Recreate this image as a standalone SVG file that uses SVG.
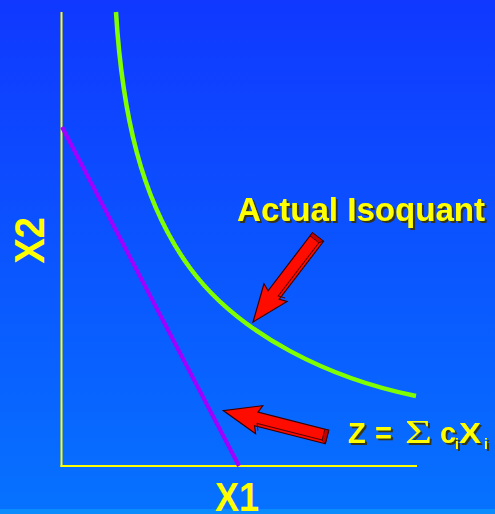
<svg xmlns="http://www.w3.org/2000/svg" width="495" height="514" viewBox="0 0 495 514">
<defs>
<linearGradient id="bg" x1="0" y1="0" x2="0" y2="1">
<stop offset="0" stop-color="#1038ff"/>
<stop offset="1" stop-color="#0672ff"/>
</linearGradient>
<filter id="sh" x="-10%" y="-10%" width="130%" height="140%">
<feOffset dx="2" dy="2" in="SourceAlpha" result="o"/>
<feFlood flood-color="#3a3000" flood-opacity="0.9"/>
<feComposite in2="o" operator="in" result="s"/>
<feMerge><feMergeNode in="s"/><feMergeNode in="SourceGraphic"/></feMerge>
</filter>
<g id="blockArrow">
<polygon points="0,-7 73,-7 70,-14.5 107,0 70,14.5 73,7 0,7" fill="#ff0c00" stroke="#3a0000" stroke-width="1.2" stroke-linejoin="miter"/>
<polyline points="4,-4.2 71,-4.2 68.5,-11" fill="none" stroke="#5a0000" stroke-width="1"/>
<polygon points="0,-7 4,-4.2 4,7 0,7" fill="#c40000" stroke="#3a0000" stroke-width="0.8"/>
</g>
</defs>
<style>
.lbl{font-family:"Liberation Sans",Arial,sans-serif;font-weight:bold;fill:#ffff00}
</style>
<rect width="495" height="514" fill="url(#bg)"/>
<rect y="509" width="495" height="5" fill="#0a8cff"/>

<g id="axes" stroke="#ffff00" stroke-width="2" fill="none">
<line x1="61.5" y1="12" x2="61.5" y2="467"/>
<line x1="60.5" y1="466" x2="417" y2="466"/>
</g>

<g id="budget-line">
<line x1="62" y1="127" x2="239" y2="466" stroke="#a000ff" stroke-width="4"/>
</g>

<g id="isoquant">
<path d="M116,12 C122,110 140,200 190,268 S332,379 416,396" fill="none" stroke="#80ff00" stroke-width="4.5"/>
</g>

<g id="connectors">
<use href="#blockArrow" transform="translate(318,237) rotate(127.4)"/>
<use href="#blockArrow" transform="translate(327,437) rotate(194.3)"/>
</g>

<g id="label-actual" filter="url(#sh)">
<text class="lbl" x="237" y="221" font-size="33" textLength="248" lengthAdjust="spacingAndGlyphs">Actual Isoquant</text>
</g>

<g id="label-z" filter="url(#sh)">
<text class="lbl" x="348" y="443" font-size="29">Z</text>
<text class="lbl" x="375" y="443" font-size="29">=</text>
<text x="405" y="443" font-size="34" font-family="'Liberation Serif','Times New Roman',serif" fill="#ffff00" textLength="27" lengthAdjust="spacingAndGlyphs">Σ</text>
<text class="lbl" x="440" y="443" font-size="29">c</text>
<text class="lbl" x="455" y="449" font-size="14">i</text>
<text class="lbl" x="459" y="443" font-size="30" textLength="22" lengthAdjust="spacingAndGlyphs">X</text>
<text class="lbl" x="484" y="449" font-size="14">i</text>
</g>

<g id="label-x2">
<text class="lbl" font-size="42" transform="translate(44,263.5) rotate(-90)" textLength="46.5" lengthAdjust="spacingAndGlyphs">X2</text>
</g>

<g id="label-x1">
<text class="lbl" x="215" y="511" font-size="40" textLength="44" lengthAdjust="spacingAndGlyphs">X1</text>
</g>
</svg>
